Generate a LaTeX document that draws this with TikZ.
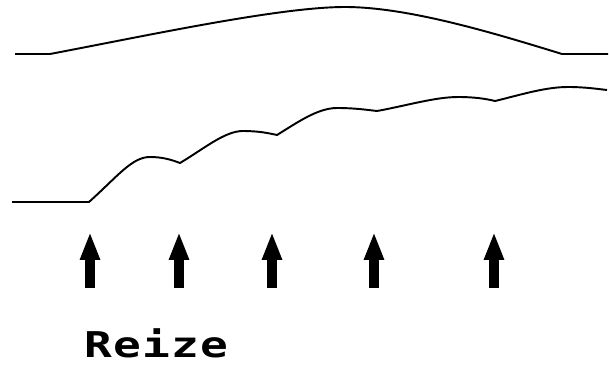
\documentclass[tikz,border=0pt]{standalone}
\usepackage{fontspec}
\newfontfamily\reizefont{DejaVu Sans Mono}[FakeStretch=1.3,LetterSpace=3.4]
\usepackage{tikz}
\usetikzlibrary{arrows.meta}

\begin{document}
\begin{tikzpicture}[x=0.02cm, y=-0.02cm,
    wave/.style={line width=1.1pt, black, line join=round},
    reizearrow/.style={line width=0.19cm, -{Triangle[length=0.56cm, width=0.37cm]}}]
        \useasboundingbox (0,0) rectangle (609,368);

        % upper curve
        \draw[wave] (15,54) -- (50,54)
          .. controls (150,35) and (280,7) .. (345,7)
          .. controls (410,7) and (500,35) .. (562,54) -- (608,54);

        % lower curve
        \draw[wave] (12,202) -- (89,202)
          .. controls (118,176) and (132,157) .. (150,157)
          .. controls (163,157) and (172,160) .. (180,163)
          .. controls (205,148) and (225,131) .. (243,131)
          .. controls (258,131) and (268,133) .. (277,135)
          .. controls (298,122) and (318,108) .. (337,108)
          .. controls (355,108) and (368,110) .. (377,111)
          .. controls (405,106) and (435,97) .. (458,97)
          .. controls (475,97) and (487,99) .. (495,101)
          .. controls (520,95) and (545,87) .. (568,87)
          .. controls (585,87) and (598,89) .. (607,90);

        % arrows
        \foreach \ax in {90,179,272,374,494}
          \draw[reizearrow] (\ax,288) -- (\ax,232);

        \node[anchor=base west, inner sep=0pt, font=\reizefont\bfseries\fontsize{20.2}{24}\selectfont]
          (reize) at (84,357) {Reize};
      \end{tikzpicture}
\end{document}
